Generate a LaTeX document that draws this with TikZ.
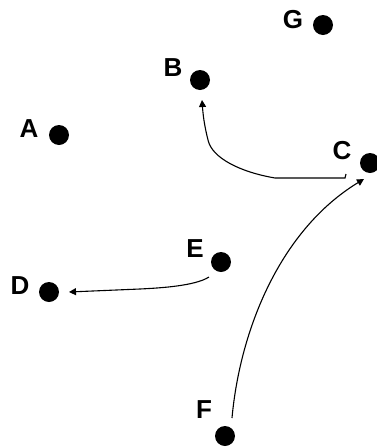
\documentclass[tikz,border=0pt]{standalone}
\usepackage{fontspec}
\setmainfont{Liberation Sans}
\usetikzlibrary{arrows.meta,calc}
\begin{document}
\begin{tikzpicture}[x=1pt,y=-1pt,
  dot/.style={circle,fill=black,inner sep=0pt,minimum size=20pt},
  lbl/.style={font=\fontsize{26}{26}\selectfont\bfseries,inner sep=0pt},
  link/.style={line width=1.1pt,-{Triangle[width=7pt,length=7pt]}}]
\useasboundingbox (0,0) rectangle (376,448);
\node[dot] (A) at (59,135) {};
\node[dot] (B) at (200,80) {};
\node[dot] (G) at (323,25) {};
\node[dot] (C) at (370,163) {};
\node[dot] (E) at (221,262) {};
\node[dot] (D) at (49,292) {};
\node[dot] (F) at (225,436) {};
\node[lbl] (lA) at (29,129) {A};
\node[lbl] (lB) at (173,68) {B};
\node[lbl] (lG) at (293,20) {G};
\node[lbl] (lC) at (342,151) {C};
\node[lbl] (lE) at (195,249) {E};
\node[lbl] (lD) at (20,286) {D};
\node[lbl] (lF) at (204,410) {F};
\coordinate (cs) at ($(C)+(-24,11)$);
\coordinate (bt) at ($(B)+(2,20)$);
\coordinate (es) at ($(E)+(-12,15)$);
\coordinate (dt) at ($(D)+(20,0)$);
\coordinate (fs) at ($(F)+(7,-18)$);
\coordinate (ct) at ($(C)+(-6,16)$);
\draw[link] (cs) -- ++(-1,4) -- (275,178) .. controls (240,172) and (212,158) .. (208,140) .. controls (204,124) and (203,114) .. (bt);
\draw[link] (es) .. controls (195,286) and (160,288) .. (140,289) -- (dt);
\draw[link] (fs) .. controls (240,330) and (280,230) .. (ct);
\end{tikzpicture}
\end{document}
